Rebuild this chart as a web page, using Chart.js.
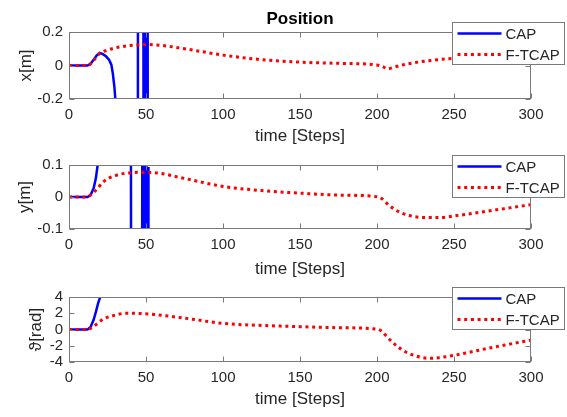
<!DOCTYPE html>
<html>
<head>
<meta charset="utf-8">
<script src="https://cdn.jsdelivr.net/npm/chart.js@4.4.1/dist/chart.umd.min.js"></script>
<style>
  body { margin: 0; background: #fff; width: 567px; height: 417px; overflow: hidden; position: relative; }
  canvas { position: absolute; left: 0; }
</style>
</head>
<body>
<canvas id="posX" width="567" height="150" style="top:0px"></canvas>
<canvas id="posY" width="567" height="132" style="top:150px"></canvas>
<canvas id="posTh" width="567" height="135" style="top:282px"></canvas>
<script>
// --- data ---
const xTicks = [0, 50, 100, 150, 200, 250, 300];

// x[m]
const xCapSteps = [0, 5, 10, 12, 14, 16, 18, 20, 22, 24, 26, 27.5, 28.5, 29.5, 30.5, 32, 44.6, 44.9, 48.2, 48.5, 49.6, 49.9, 50.9, 51.3];
const xCapVals  = [0, 0, 0, 0, 0.01, 0.035, 0.06, 0.075, 0.068, 0.055, 0.035, 0.005, -0.05, -0.13, -0.25, -0.6, -3, 3, 3, -3, -3, 3, 3, -3];
const xFtSteps  = [0, 5, 10, 13, 16, 20, 25, 30, 40, 50, 60, 75, 100, 125, 150, 175, 200, 204, 207, 211, 220, 235, 250, 275, 300];
const xFtVals   = [0, 0, 0, 0.003, 0.03, 0.072, 0.092, 0.105, 0.12, 0.125, 0.12, 0.1, 0.062, 0.035, 0.02, 0.013, 0.003, -0.008, -0.02, -0.01, 0.01, 0.03, 0.043, 0.052, 0.058];
const xYTicks   = [-0.2, 0, 0.2];

// y[m]
const yCapSteps = [0, 5, 10, 12, 14, 16, 17.5, 18.6, 20, 40.1, 40.4, 47.4, 47.7, 48.5, 48.8, 49.7, 50.0, 50.4, 50.7, 51.4, 51.6];
const yCapVals  = [0, 0, 0, 0, 0.006, 0.027, 0.06, 0.1, 0.15, 0.5, -0.5, -0.5, 0.5, 0.5, -0.5, -0.5, 0.5, 0.5, -0.5, -0.5, 0.094];
const yFtSteps  = [0, 5, 10, 13, 15, 18, 22, 26, 30, 35, 45, 55, 75, 100, 125, 150, 175, 200, 203, 208, 215, 221, 230, 241, 252, 275, 300];
const yFtVals   = [0, 0, 0, 0.003, 0.01, 0.024, 0.046, 0.059, 0.067, 0.073, 0.077, 0.076, 0.058, 0.033, 0.02, 0.012, 0.006, 0.001, -0.005, -0.027, -0.048, -0.058, -0.064, -0.064, -0.058, -0.042, -0.024];
const yYTicks   = [-0.1, 0, 0.1];

// theta[rad]
const thCapSteps = [0, 5, 10, 12, 14, 16, 17.5, 19, 20.5, 22, 24];
const thCapVals  = [0, 0, 0, 0, 0.3, 1.2, 2.2, 3.3, 4.1, 5, 6.5];
const thFtSteps  = [0, 5, 10, 13, 15, 18, 22, 29, 37, 45, 55, 75, 100, 125, 150, 175, 200, 203, 206, 212, 219, 228, 235, 241, 250, 260, 275, 286, 300];
const thFtVals   = [0, 0, 0, 0.05, 0.25, 0.66, 1.25, 1.72, 2.0, 1.98, 1.85, 1.4, 0.75, 0.5, 0.35, 0.22, 0.05, -0.2, -0.8, -1.9, -2.8, -3.4, -3.55, -3.45, -3.18, -2.8, -2.2, -1.8, -1.3];
const thYTicks   = [-4, -2, 0, 2, 4];

// --- style ---
const FONT = "'Liberation Sans', Arial, Helvetica, sans-serif";
const textColor = '#262626';
const boxColor = '#7a7a7a';
const blue = '#0000ff';
const red = '#ff0000';

const toPoints = (steps, vals) => steps.map((s, i) => ({ x: s, y: vals[i] }));

// axes box + inward ticks on all four sides
const framePlugin = {
  id: 'frame',
  afterDatasetsDraw(chart) {
    const { ctx, chartArea: a, scales } = chart;
    const L = Math.round(a.left) + 0.5, R = Math.round(a.right) - 0.5;
    const T = Math.round(a.top) + 0.5, B = Math.round(a.bottom) - 0.5;
    ctx.save();
    ctx.strokeStyle = boxColor;
    ctx.lineWidth = 1;
    ctx.strokeRect(L, T, R - L, B - T);
    ctx.beginPath();
    scales.x.ticks.forEach(t => {
      const px = Math.round(scales.x.getPixelForValue(t.value)) + 0.5;
      ctx.moveTo(px, B); ctx.lineTo(px, B - 5);
      ctx.moveTo(px, T); ctx.lineTo(px, T + 5);
    });
    scales.y.ticks.forEach(t => {
      const py = Math.round(scales.y.getPixelForValue(t.value)) + 0.5;
      ctx.moveTo(L, py); ctx.lineTo(L + 5, py);
      ctx.moveTo(R, py); ctx.lineTo(R - 5, py);
    });
    ctx.stroke();
    ctx.restore();
  }
};

// MATLAB-style legend box, top right, overlapping the axes
const legendPlugin = {
  id: 'boxLegend',
  afterDraw(chart) {
    const { ctx, chartArea: a } = chart;
    const bx = Math.round(a.right) - 78.5, by = Math.round(a.top) - 9.5;
    const bw = 112, bh = 42;
    ctx.save();
    ctx.fillStyle = '#fff';
    ctx.fillRect(bx, by, bw, bh);
    ctx.strokeStyle = boxColor;
    ctx.lineWidth = 1;
    ctx.strokeRect(bx, by, bw, bh);
    chart.data.datasets.forEach((ds, i) => {
      const ry = by + 11 + i * 21;
      ctx.beginPath();
      ctx.strokeStyle = ds.borderColor;
      ctx.lineWidth = ds.borderWidth;
      ctx.setLineDash(ds.borderDash || []);
      ctx.moveTo(bx + 5, ry);
      ctx.lineTo(bx + 49, ry);
      ctx.stroke();
      ctx.setLineDash([]);
      ctx.fillStyle = textColor;
      ctx.font = '15px ' + FONT;
      ctx.textBaseline = 'middle';
      ctx.textAlign = 'left';
      ctx.fillText(ds.label, bx + 53, ry + 1);
    });
    ctx.restore();
  }
};

// "Position" title centred over the axes
const titlePlugin = {
  id: 'axesTitle',
  afterDraw(chart, args, opts) {
    if (!opts.text) return;
    const { ctx, chartArea: a } = chart;
    ctx.save();
    ctx.fillStyle = '#000';
    ctx.font = 'bold 17px ' + FONT;
    ctx.textAlign = 'center';
    ctx.textBaseline = 'middle';
    ctx.fillText(opts.text, (a.left + a.right) / 2, opts.y);
    ctx.restore();
  }
};

const makeChart = (id, p) => {
  return new Chart(document.getElementById(id), {
    type: 'line',
    data: {
      datasets: [
        {
          label: 'CAP',
          data: toPoints(p.capSteps, p.capVals),
          borderColor: blue,
          borderWidth: 2.5,
          pointRadius: 0,
          tension: 0,
          clip: 0,
          order: 1
        },
        {
          label: 'F-TCAP',
          data: toPoints(p.ftSteps, p.ftVals),
          borderColor: red,
          borderWidth: 3,
          borderDash: [3, 3.7],
          pointRadius: 0,
          cubicInterpolationMode: 'monotone',
          clip: 0,
          order: 0
        }
      ]
    },
    options: {
      responsive: false,
      animation: false,
      layout: { padding: { top: p.top, right: 36, left: 0, bottom: 0 } },
      plugins: {
        legend: { display: false },
        tooltip: { enabled: false },
        axesTitle: { text: p.title, y: 19 }
      },
      scales: {
        x: {
          type: 'linear',
          min: 0,
          max: 300,
          afterBuildTicks: s => { s.ticks = xTicks.map(v => ({ value: v })); },
          afterFit: s => { s.height = p.xh; },
          grid: { display: false, drawTicks: false },
          border: { display: false },
          ticks: { color: textColor, font: { family: FONT, size: 15 }, padding: 7, maxRotation: 0, autoSkip: false },
          title: {
            display: true,
            text: 'time [Steps]',
            color: textColor,
            font: { family: FONT, size: 17, lineHeight: 1.2 },
            padding: { top: 0, bottom: p.xtPad }
          }
        },
        y: {
          type: 'linear',
          min: p.yTicks[0],
          max: p.yTicks[p.yTicks.length - 1],
          afterBuildTicks: s => { s.ticks = p.yTicks.map(v => ({ value: v })); },
          afterFit: s => { s.width = 69; },
          grid: { display: false, drawTicks: false },
          border: { display: false },
          ticks: { color: textColor, font: { family: FONT, size: 15 }, padding: 6, autoSkip: false, callback: v => String(v) },
          title: {
            display: true,
            text: p.ylabel,
            color: textColor,
            font: { family: FONT, size: 17, lineHeight: 1.2 },
            padding: { top: p.ytPad, bottom: 0 }
          }
        }
      }
    },
    plugins: [framePlugin, legendPlugin, titlePlugin]
  });
};

makeChart('posX', {
  capSteps: xCapSteps, capVals: xCapVals, ftSteps: xFtSteps, ftVals: xFtVals,
  yTicks: xYTicks, ylabel: 'x[m]', title: 'Position',
  top: 32, xh: 51, xtPad: 3, ytPad: 16
});
makeChart('posY', {
  capSteps: yCapSteps, capVals: yCapVals, ftSteps: yFtSteps, ftVals: yFtVals,
  yTicks: yYTicks, ylabel: 'y[m]', title: '',
  top: 13, xh: 53, xtPad: 2, ytPad: 15
});
makeChart('posTh', {
  capSteps: thCapSteps, capVals: thCapVals, ftSteps: thFtSteps, ftVals: thFtVals,
  yTicks: thYTicks, ylabel: 'ϑ[rad]', title: '',
  top: 12, xh: 55, xtPad: 7, ytPad: 26
});
</script>
</body>
</html>
